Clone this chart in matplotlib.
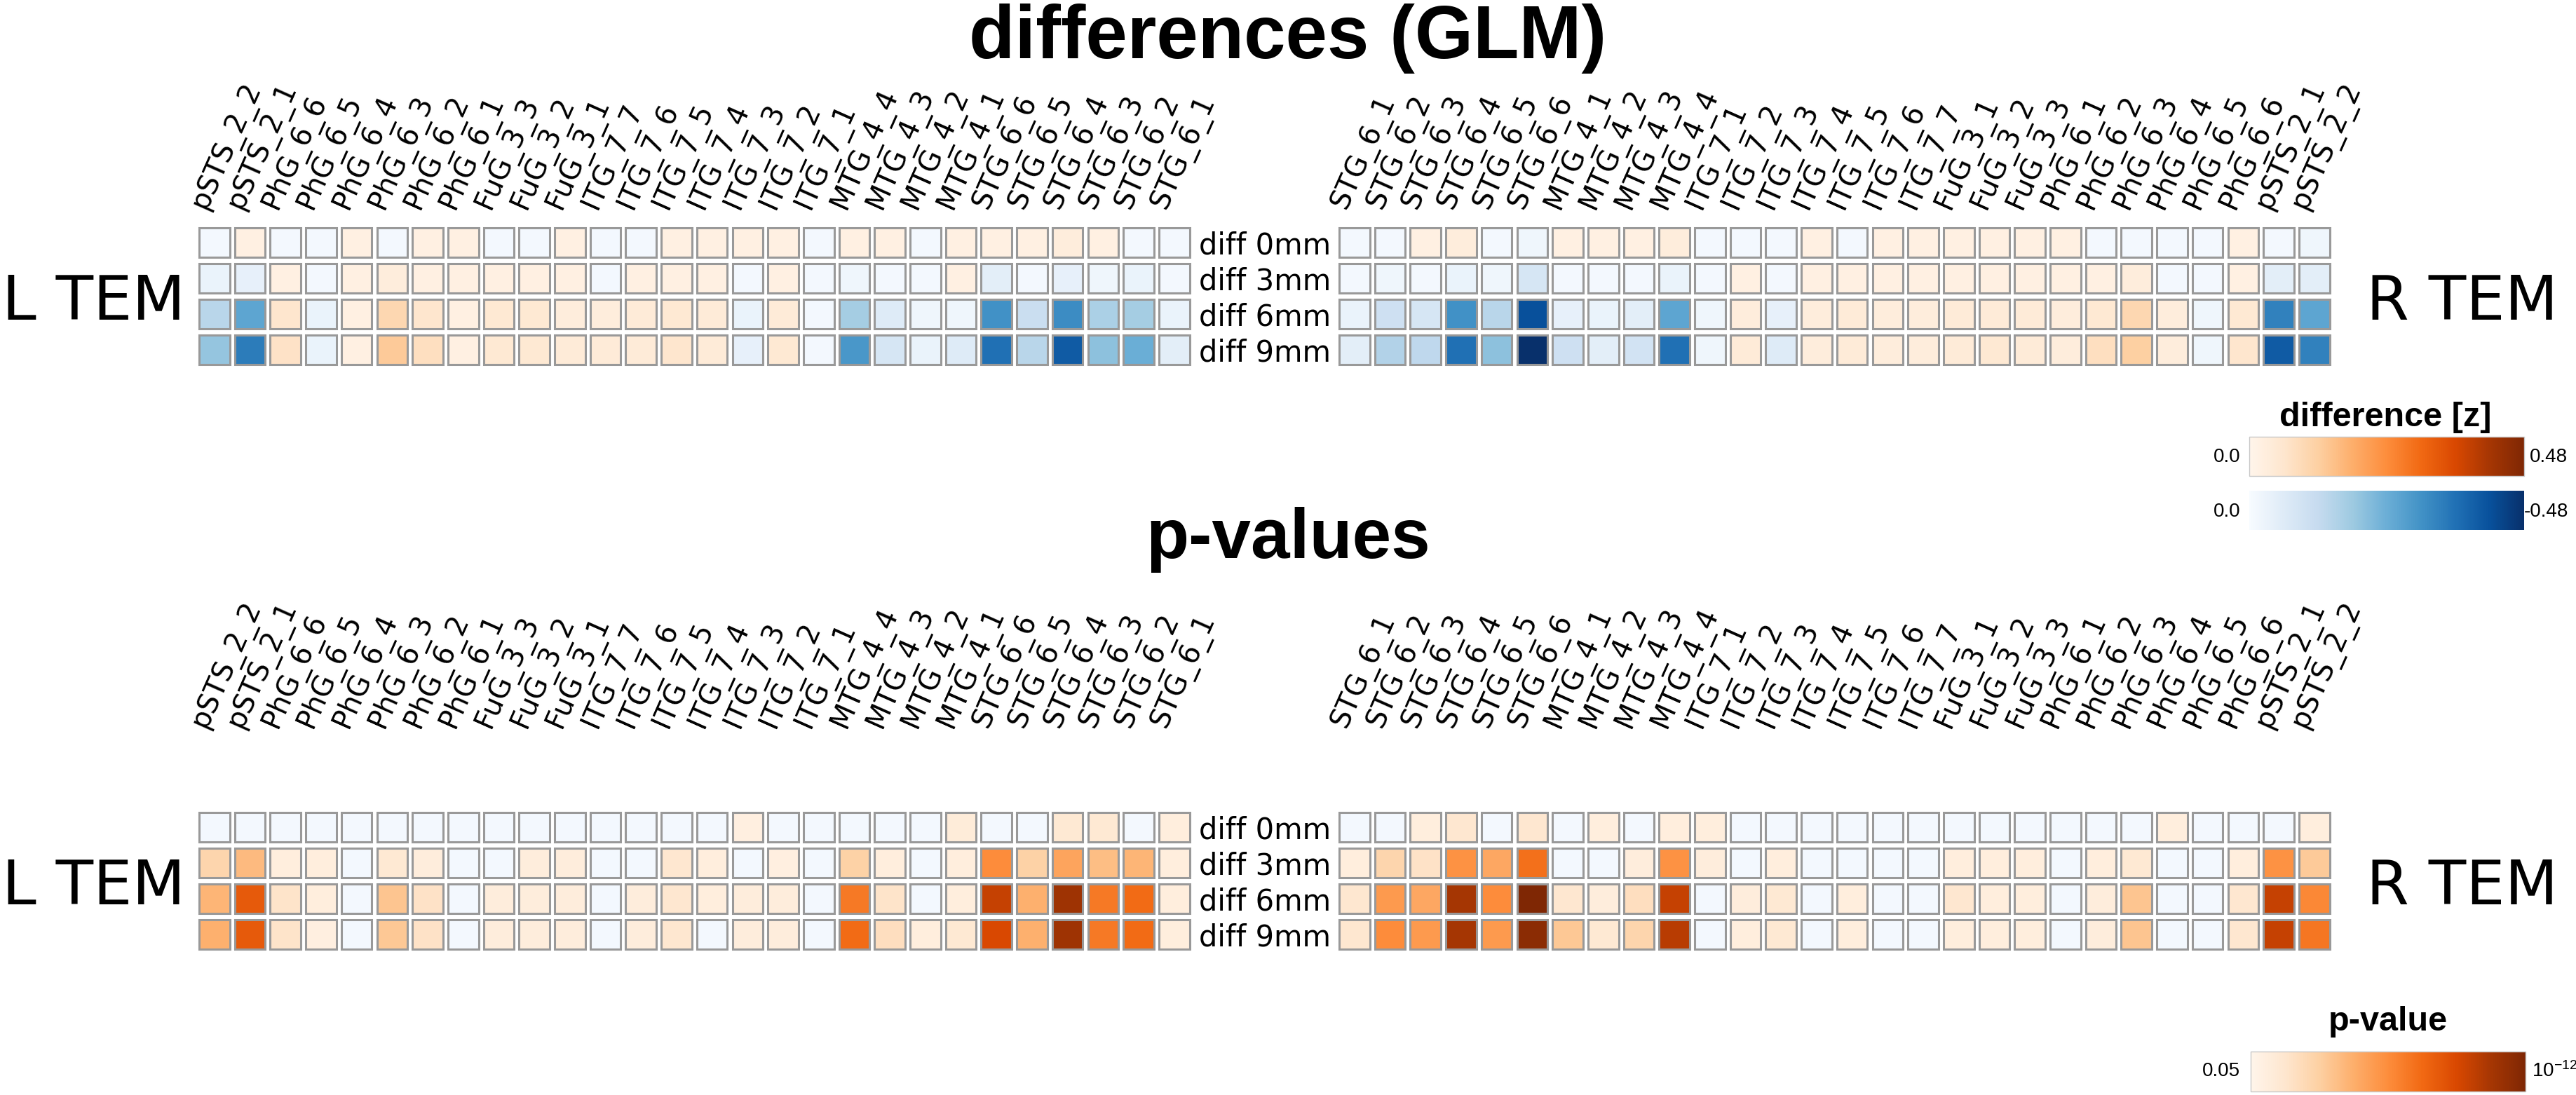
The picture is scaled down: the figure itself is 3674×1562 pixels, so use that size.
import numpy as np
import matplotlib.pyplot as plt
from matplotlib.patches import Rectangle
from matplotlib.colors import Normalize
from matplotlib.cm import ScalarMappable

# ---- data ----
rows = ['diff 0mm', 'diff 3mm', 'diff 6mm', 'diff 9mm']

left_regions = ['pSTS_2_2', 'pSTS_2_1', 'PhG_6_6', 'PhG_6_5', 'PhG_6_4', 'PhG_6_3', 'PhG_6_2',
                'PhG_6_1', 'FuG_3_3', 'FuG_3_2', 'FuG_3_1', 'ITG_7_7', 'ITG_7_6', 'ITG_7_5',
                'ITG_7_4', 'ITG_7_3', 'ITG_7_2', 'ITG_7_1', 'MTG_4_4', 'MTG_4_3', 'MTG_4_2',
                'MTG_4_1', 'STG_6_6', 'STG_6_5', 'STG_6_4', 'STG_6_3', 'STG_6_2', 'STG_6_1']
right_regions = ['STG_6_1', 'STG_6_2', 'STG_6_3', 'STG_6_4', 'STG_6_5', 'STG_6_6', 'MTG_4_1',
                 'MTG_4_2', 'MTG_4_3', 'MTG_4_4', 'ITG_7_1', 'ITG_7_2', 'ITG_7_3', 'ITG_7_4',
                 'ITG_7_5', 'ITG_7_6', 'ITG_7_7', 'FuG_3_1', 'FuG_3_2', 'FuG_3_3', 'PhG_6_1',
                 'PhG_6_2', 'PhG_6_3', 'PhG_6_4', 'PhG_6_5', 'PhG_6_6', 'pSTS_2_1', 'pSTS_2_2']

# GLM differences [z]
diff_left = [
    [-0.01, 0.02, -0.01, -0.01, 0.02, -0.01, 0.02, 0.02, -0.01, -0.01, 0.02, -0.01, -0.01, 0.02,
     0.02, 0.02, 0.02, -0.01, 0.02, 0.02, -0.01, 0.02, 0.02, 0.02, 0.03, 0.02, -0.01, -0.01],
    [-0.03, -0.04, 0.02, -0.01, 0.02, 0.03, 0.02, 0.02, 0.02, 0.02, 0.02, -0.01, 0.02, 0.02,
     0.02, -0.01, 0.02, -0.01, -0.02, -0.01, -0.01, 0.02, -0.05, -0.01, -0.04, -0.02, -0.03, -0.01],
    [-0.14, -0.26, 0.06, -0.03, 0.02, 0.10, 0.06, 0.02, 0.05, 0.05, 0.03, 0.03, 0.04, 0.05,
     0.04, -0.03, 0.04, -0.01, -0.17, -0.06, -0.02, -0.02, -0.30, -0.11, -0.31, -0.16, -0.17, -0.03],
    [-0.19, -0.34, 0.07, -0.03, 0.02, 0.13, 0.08, 0.02, 0.05, 0.05, 0.04, 0.04, 0.04, 0.06,
     0.04, -0.04, 0.05, -0.01, -0.29, -0.08, -0.03, -0.06, -0.36, -0.14, -0.40, -0.20, -0.24, -0.05],
]
diff_right = [
    [-0.01, -0.01, 0.02, 0.03, -0.01, -0.02, 0.02, 0.02, 0.02, 0.03, -0.01, -0.01, -0.01, 0.02,
     -0.01, 0.02, 0.02, 0.02, 0.02, 0.02, 0.02, -0.01, -0.01, -0.01, -0.01, 0.02, -0.01, -0.02],
    [-0.01, -0.02, -0.01, -0.03, -0.02, -0.08, -0.01, -0.01, -0.01, -0.03, -0.01, 0.02, -0.01, 0.02,
     0.02, 0.02, 0.02, 0.02, 0.02, 0.02, 0.02, 0.02, 0.03, -0.01, -0.01, 0.02, -0.05, -0.05],
    [-0.03, -0.10, -0.08, -0.30, -0.14, -0.42, -0.04, -0.03, -0.05, -0.26, -0.02, 0.03, -0.04, 0.03,
     0.04, 0.03, 0.03, 0.04, 0.04, 0.04, 0.03, 0.05, 0.10, 0.03, -0.02, 0.05, -0.33, -0.26],
    [-0.05, -0.15, -0.13, -0.36, -0.20, -0.48, -0.10, -0.05, -0.09, -0.36, -0.02, 0.04, -0.06, 0.03,
     0.04, 0.03, 0.03, 0.04, 0.05, 0.04, 0.03, 0.08, 0.12, 0.03, -0.02, 0.06, -0.40, -0.33],
]

# p-values (NS = not significant, p > 0.05)
NS = 0.5
p_left = [
    [NS, NS, NS, NS, NS, NS, NS, NS, NS, NS, NS, NS, NS, NS,
     NS, 1.5e-2, NS, NS, NS, NS, NS, 7e-3, NS, NS, 4e-3, 4e-3, NS, 1.1e-2],
    [2.2e-4, 1.5e-5, 1.1e-2, 1.1e-2, NS, 4e-3, 9e-3, NS, NS, 9e-3, 9e-3, NS, NS, 2.6e-3,
     1.1e-2, NS, 1.5e-2, NS, 1.4e-4, 1.1e-2, NS, 1.1e-2, 2.2e-7, 1.4e-4, 2e-6, 1.9e-5, 9e-6, 1.1e-2],
    [9e-6, 2.6e-9, 1.6e-3, 1.1e-2, NS, 4e-5, 1.3e-3, NS, 9e-3, 9e-3, 9e-3, NS, 9e-3, 2.6e-3,
     1.1e-2, 9e-3, 9e-3, NS, 4e-8, 1.6e-3, NS, 1.1e-2, 1.4e-10, 5.5e-6, 1.2e-11, 4e-8, 1.2e-8, 1.1e-2],
    [5.5e-6, 2.6e-9, 1.6e-3, 1.5e-2, NS, 5e-5, 1.3e-3, NS, 9e-3, 9e-3, 9e-3, NS, 9e-3, 2.6e-3,
     NS, 9e-3, 9e-3, NS, 1.2e-8, 7.6e-4, 1.1e-2, 4e-3, 5e-10, 5.5e-6, 1.2e-11, 4e-8, 1.2e-8, 1.1e-2],
]
p_right = [
    [NS, NS, 1.1e-2, 2.6e-3, NS, 2.6e-3, NS, 1.1e-2, NS, 1.1e-2, 1.1e-2, NS, NS, NS,
     NS, NS, NS, NS, NS, NS, NS, NS, NS, 1.1e-2, NS, NS, NS, 1.1e-2],
    [1.1e-2, 2.2e-4, 1.3e-3, 3.6e-7, 2.6e-6, 1.9e-8, NS, NS, 9e-3, 3.6e-7, 9e-3, NS, 1.1e-2, NS,
     NS, NS, NS, 1.1e-2, 1.1e-2, 1.1e-2, NS, 1.1e-2, 4e-3, NS, NS, 1.1e-2, 3.6e-7, 6.5e-5],
    [2.6e-3, 7.6e-7, 2.6e-6, 2e-11, 2.2e-7, 1e-12, 2.6e-3, 9e-3, 7.6e-4, 1.4e-10, NS, 9e-3, 4e-3, NS,
     1.1e-2, NS, NS, 2.6e-3, 1.1e-2, 1.1e-2, NS, 9e-3, 4e-5, NS, NS, 2.6e-3, 1.4e-10, 1.4e-7],
    [2.6e-3, 2.2e-7, 7.6e-7, 2e-11, 7.6e-7, 2.7e-12, 5e-5, 4e-3, 2.2e-4, 6.6e-11, NS, 1.1e-2, 4e-3, NS,
     1.1e-2, NS, NS, 1.1e-2, 1.1e-2, 1.1e-2, NS, 9e-3, 4e-5, NS, NS, 2.6e-3, 1.4e-10, 3e-8],
]

diff_max = 0.48
p_thresh = 0.05
p_min = 1e-12

# ---- styling ----
plt.rcParams['font.family'] = 'DejaVu Sans'
plt.rcParams['mathtext.fontset'] = 'custom'
plt.rcParams['mathtext.rm'] = 'Liberation Sans'
plt.rcParams['mathtext.default'] = 'regular'
ARIAL = 'Liberation Sans'

W, H = 3674, 1562
fig = plt.figure(figsize=(W / 100, H / 100), dpi=100)

oranges = plt.get_cmap('Oranges')
blues = plt.get_cmap('Blues')
diff_norm = Normalize(0, diff_max)
p_norm = Normalize(-np.log10(p_thresh), -np.log10(p_min))


def px_axes(x0, y0, x1, y1):
    # pixel box measured from the top-left corner
    return fig.add_axes([x0 / W, 1 - y1 / H, (x1 - x0) / W, (y1 - y0) / H])


def diff_color(v):
    if v >= 0:
        return oranges(diff_norm(v))
    return blues(diff_norm(-v))


def p_color(p):
    if p > p_thresh:
        return blues(0.02)
    return oranges(p_norm(-np.log10(p)))


def heatmap(ax, values, colfun, labels, label_y):
    for r, row in enumerate(values):
        for c, v in enumerate(row):
            ax.add_patch(Rectangle((c - 0.43, r - 0.41), 0.86, 0.82, facecolor=colfun(v),
                                   edgecolor='#999999', lw=2.2))
    for c, lab in enumerate(labels):
        ax.text(c - 0.25, label_y, lab, rotation=66, rotation_mode='anchor', ha='left',
                va='baseline', fontsize=29, clip_on=False)
    ax.set_xlim(-0.5, len(values[0]) - 0.5)
    ax.set_ylim(len(values) - 0.5, -0.5)
    ax.axis('off')


panels = [
    (diff_left, diff_right, diff_color, 320.5, -0.9),
    (p_left, p_right, p_color, 1154.5, -2.75),
]
for vl, vr, cf, top, lab_y in panels:
    ax_l = px_axes(280.5, top, 1700.1, top + 204)
    ax_r = px_axes(1906.5, top, 3326.1, top + 204)
    heatmap(ax_l, vl, cf, left_regions, lab_y)
    heatmap(ax_r, vr, cf, right_regions, lab_y)
    for r, name in enumerate(rows):
        ax_l.text(27.7, r, name, ha='left', va='center_baseline', fontsize=30, clip_on=False)
    mid = 1 - (top + 102) / H
    fig.text(264 / W, mid, 'L TEM', ha='right', va='center_baseline', fontsize=63)
    fig.text(3375 / W, mid, 'R TEM', ha='left', va='center_baseline', fontsize=63)

# titles
fig.text(0.5, 1 - 55 / H, 'differences (GLM)', ha='center', va='center', fontsize=77,
         fontweight='bold', family=ARIAL)
fig.text(0.5, 1 - 770 / H, 'p-values', ha='center', va='center', fontsize=72,
         fontweight='bold', family=ARIAL)

# colorbars
cb_pos = fig.colorbar(ScalarMappable(diff_norm, oranges), cax=px_axes(3208, 623, 3600, 679),
                      orientation='horizontal')
cb_neg = fig.colorbar(ScalarMappable(diff_norm, blues), cax=px_axes(3208, 700, 3600, 756),
                      orientation='horizontal')
cb_p = fig.colorbar(ScalarMappable(p_norm, oranges), cax=px_axes(3210, 1500, 3602, 1557),
                    orientation='horizontal')
for cb in (cb_pos, cb_neg, cb_p):
    cb.set_ticks([])
    cb.outline.set_edgecolor('#c8c8c8')
    cb.outline.set_linewidth(1.0)
cb_neg.outline.set_visible(False)

fig.text(3402 / W, 1 - 608 / H, 'difference [z]', ha='center', va='baseline', fontsize=35,
         fontweight='bold', family=ARIAL)
fig.text(3195 / W, 1 - 652 / H, '0.0', ha='right', va='center', fontsize=20, family=ARIAL)
fig.text(3608 / W, 1 - 652 / H, '0.48', ha='left', va='center', fontsize=20, family=ARIAL)
fig.text(3195 / W, 1 - 730 / H, '0.0', ha='right', va='center', fontsize=20, family=ARIAL)
fig.text(3600 / W, 1 - 730 / H, '-0.48', ha='left', va='center', fontsize=20, family=ARIAL)

fig.text(3406 / W, 1 - 1470 / H, 'p-value', ha='center', va='baseline', fontsize=35,
         fontweight='bold', family=ARIAL)
fig.text(3195 / W, 1 - 1528 / H, '0.05', ha='right', va='center', fontsize=20, family=ARIAL)
fig.text(3611 / W, 1 - 1528 / H, '10$^{-12}$', ha='left', va='center', fontsize=20, family=ARIAL)

fig.savefig('out.png', dpi=100, facecolor='white')
